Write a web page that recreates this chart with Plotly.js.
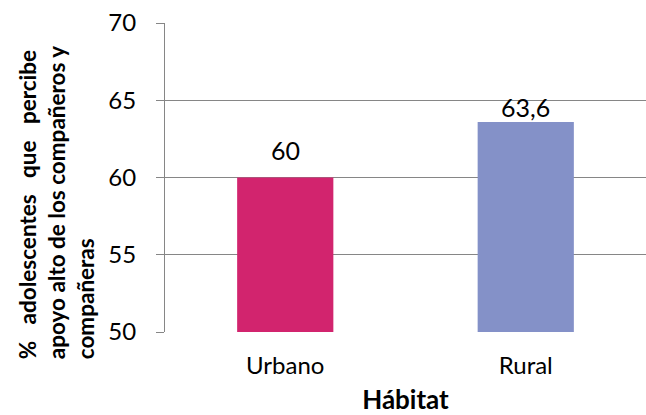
<!DOCTYPE html>
<html>
<head>
<meta charset="utf-8">
<script src="https://cdn.plot.ly/plotly-3.0.1.min.js"></script>
<style>html,body{margin:0;padding:0;background:#fff;}#chart{width:646px;height:415px;}</style>
</head>
<body>
<div id="chart"></div>
<script>
var categories = ['Urbano', 'Rural'];
var values = [60, 63.6];
var valueLabels = ['60', '63,6'];
var barColors = ['#D2246E', '#8491C8'];
var yTickVals = [50, 55, 60, 65, 70];
var labelShift = [28, 15];

var FONT = 'Lato, Carlito, Calibri, sans-serif';

var trace = {
  type: 'bar',
  x: categories,
  y: values,
  marker: {color: barColors, line: {width: 0}},
  hoverinfo: 'none'
};

var annotations = categories.map(function (c, i) {
  return {
    x: c, y: values[i], xref: 'x', yref: 'y',
    text: valueLabels[i], showarrow: false,
    yshift: labelShift[i],
    font: {family: FONT, size: 25, color: '#000'}
  };
});

var sp = '&nbsp;&nbsp;&nbsp;';
annotations.push({
  xref: 'paper', yref: 'paper',
  x: (12 - 165) / 481, y: 0.42, xanchor: 'left', yanchor: 'middle',
  textangle: -90, showarrow: false, align: 'left',
  text: '<b>%' + sp + 'adolescentes' + sp + 'que' + sp + 'percibe<br>apoyo alto de los compañeros y<br>compañeras</b>',
  font: {family: FONT, size: 22.5, color: '#000'}
});

var layout = {
  width: 646, height: 415,
  margin: {l: 165, r: 0, t: 23, b: 83},
  paper_bgcolor: '#fff', plot_bgcolor: '#fff',
  bargap: 0.6,
  showlegend: false,
  font: {family: FONT, color: '#000'},
  xaxis: {
    type: 'category',
    showgrid: false,
    showline: false,
    zeroline: false,
    ticks: '',
    ticklabelstandoff: 17,
    tickfont: {family: FONT, size: 24, color: '#000'},
    title: {text: '<b>Hábitat</b>', font: {family: FONT, size: 26, color: '#000'}, standoff: 37}
  },
  yaxis: {
    range: [50, 70],
    tickvals: yTickVals,
    ticktext: yTickVals.map(String),
    showgrid: true, gridcolor: '#868686', gridwidth: 1,
    showline: true, linecolor: '#868686', linewidth: 1,
    zeroline: false,
    ticks: 'outside', ticklen: 8, tickcolor: '#868686',
    ticklabelstandoff: 15,
    tickfont: {family: FONT, size: 24, color: '#000'}
  },
  annotations: annotations
};

Plotly.newPlot('chart', [trace], layout, {displayModeBar: false, staticPlot: true});
</script>
</body>
</html>
